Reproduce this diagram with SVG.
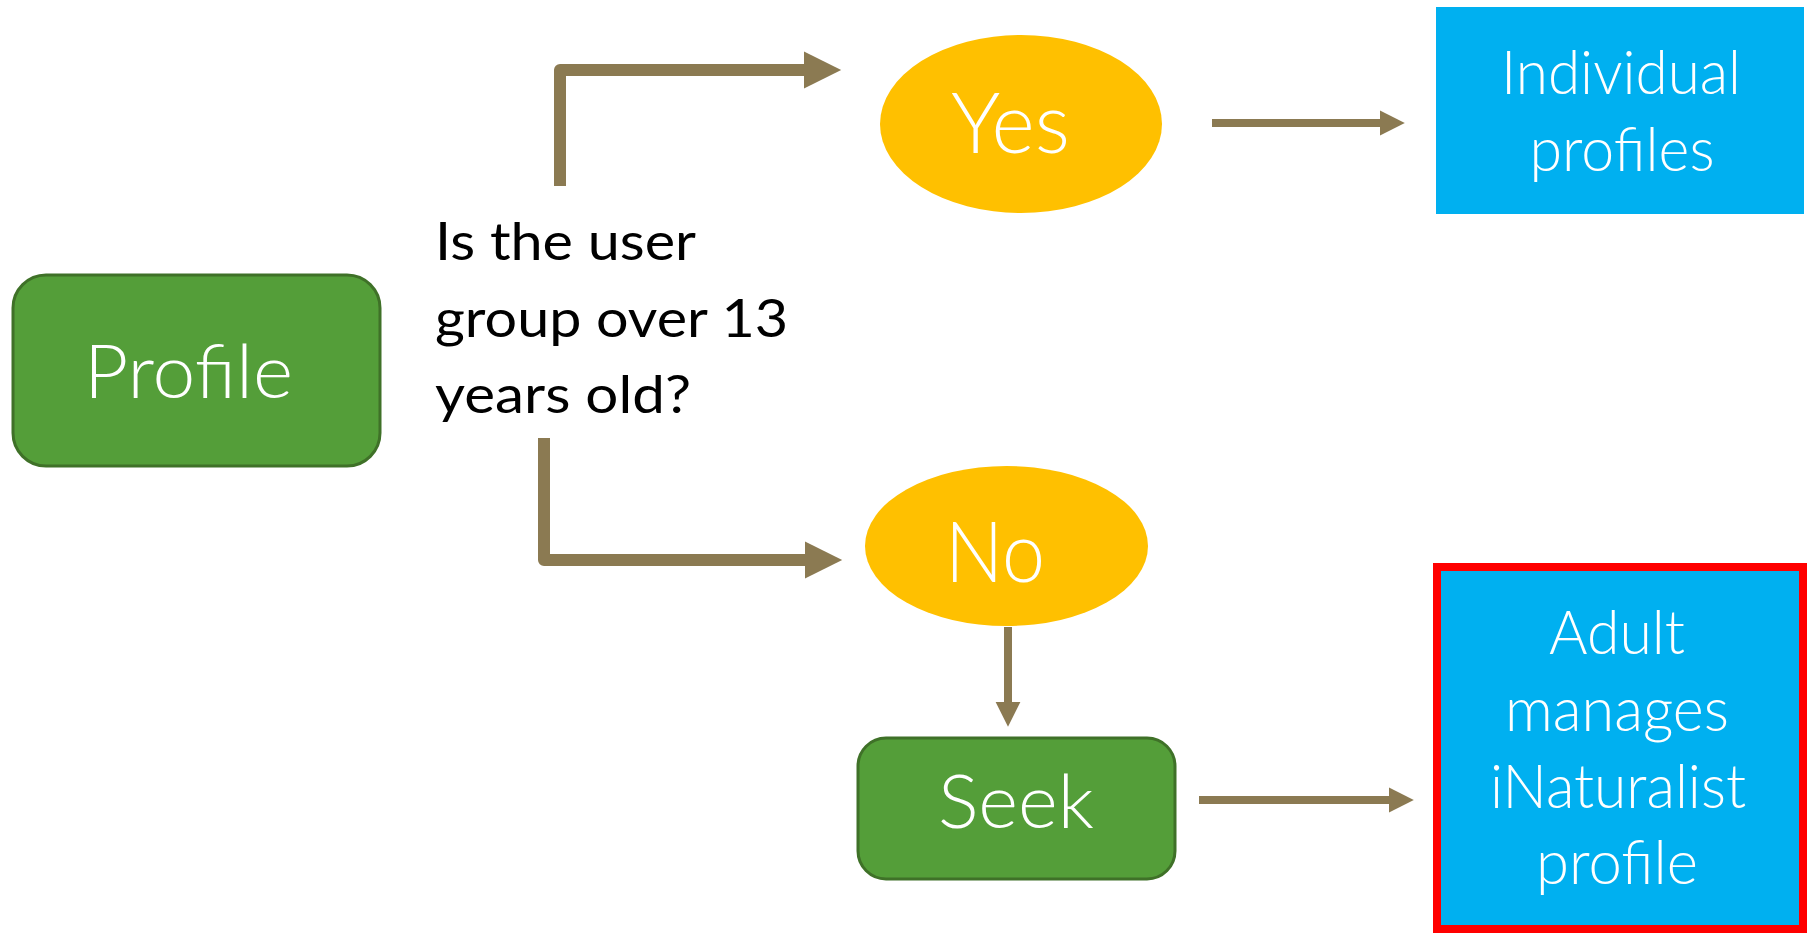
<svg xmlns="http://www.w3.org/2000/svg" width="1810" height="935" viewBox="0 0 1810 935">
  <defs>
    <style>
      .lbl { font-family: Lato, "Liberation Sans", Arial, sans-serif; font-weight: 300; fill: #ffffff; text-anchor: middle; }
      .q { font-family: Lato, "Liberation Sans", Arial, sans-serif; font-weight: 400; fill: #000000; font-size: 53px; }
      .green { fill: #549E39; stroke: #3F7128; stroke-width: 3; }
      .oval { fill: #FFC000; }
      .blue { fill: #00B0F0; }
      .conn { fill: none; stroke: #8B7A52; marker-end: url(#head); }
    </style>
    <marker id="head" markerUnits="strokeWidth" markerWidth="3.1" markerHeight="3.1" refX="0" refY="1.55" orient="auto" overflow="visible">
      <path d="M0,0 L3.1,1.55 L0,3.1 Z" fill="#8B7A52"/>
    </marker>
  </defs>
  <rect width="1810" height="935" fill="#ffffff"/>

  <g id="connectors">
    <path class="conn" d="M560,186 L560,70 L804,70" stroke-width="12" stroke-linejoin="round"/>
    <path class="conn" d="M544,438 L544,560 L805,560" stroke-width="12" stroke-linejoin="round"/>
    <path class="conn" d="M1212,123 L1380,123" stroke-width="8"/>
    <path class="conn" d="M1008,627 L1008,702" stroke-width="8"/>
    <path class="conn" d="M1199,800 L1389,800" stroke-width="8"/>
  </g>

  <g id="profile">
    <rect class="green" x="13" y="275" width="367" height="191" rx="33" ry="33"/>
    <text class="lbl" x="188.5" y="398" font-size="74" textLength="209" lengthAdjust="spacingAndGlyphs">Profile</text>
  </g>

  <g id="question">
    <text class="q" x="435" y="260" textLength="261" lengthAdjust="spacingAndGlyphs">Is the user</text>
    <text class="q" x="435" y="337" textLength="353" lengthAdjust="spacingAndGlyphs">group over 13</text>
    <text class="q" x="435" y="413" textLength="256" lengthAdjust="spacingAndGlyphs">years old?</text>
  </g>

  <g id="yes">
    <ellipse class="oval" cx="1021" cy="124" rx="141" ry="89"/>
    <text class="lbl" x="1010.5" y="153" font-size="84" textLength="119" lengthAdjust="spacingAndGlyphs">Yes</text>
  </g>

  <g id="no">
    <ellipse class="oval" cx="1006.5" cy="546" rx="141.5" ry="80"/>
    <text class="lbl" x="995" y="582" font-size="84" textLength="100" lengthAdjust="spacingAndGlyphs">No</text>
  </g>

  <g id="individual">
    <rect class="blue" x="1436" y="7" width="368" height="207"/>
    <text class="lbl" x="1621" y="94" font-size="61" textLength="240" lengthAdjust="spacingAndGlyphs">Individual</text>
    <text class="lbl" x="1622" y="171" font-size="61" textLength="185" lengthAdjust="spacingAndGlyphs">profiles</text>
  </g>

  <g id="seek">
    <rect class="green" x="858" y="738" width="317" height="141" rx="28" ry="28"/>
    <text class="lbl" x="1016" y="828" font-size="75" textLength="156" lengthAdjust="spacingAndGlyphs">Seek</text>
  </g>

  <g id="adult">
    <rect class="blue" x="1437" y="567" width="366" height="362" stroke="#FF0000" stroke-width="8"/>
    <text class="lbl" x="1617" y="654" font-size="61" textLength="136" lengthAdjust="spacingAndGlyphs">Adult</text>
    <text class="lbl" x="1617" y="731" font-size="61" textLength="224" lengthAdjust="spacingAndGlyphs">manages</text>
    <text class="lbl" x="1618" y="808" font-size="61" textLength="256" lengthAdjust="spacingAndGlyphs">iNaturalist</text>
    <text class="lbl" x="1617" y="884" font-size="61" textLength="162" lengthAdjust="spacingAndGlyphs">profile</text>
  </g>
</svg>
